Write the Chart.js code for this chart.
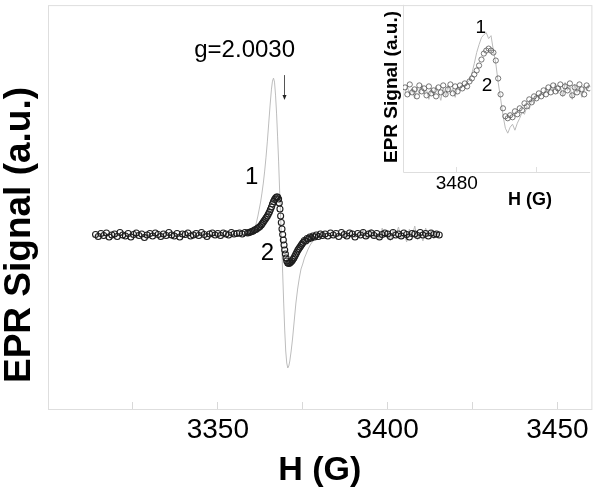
<!DOCTYPE html>
<html>
<head>
<meta charset="utf-8">
<script src="https://cdn.jsdelivr.net/npm/chart.js@4.4.0/dist/chart.umd.min.js"></script>
<style>
  body { margin: 0; background: #fff; }
  #wrap { position: relative; width: 600px; height: 491px; }
  #main { position: absolute; left: 0; top: 0; }
  #inset { position: absolute; left: 380px; top: 0; }
</style>
</head>
<body>
<div id="wrap">
  <canvas id="main" width="600" height="491"></canvas>
  <canvas id="inset" width="215" height="215"></canvas>
</div>
<script>
// ---- main spectrum: curve 1 (grey line) ----
const field1 = [
  3314.0, 3314.8, 3315.6, 3316.4, 3317.2, 3318.0, 3318.8, 3319.6, 3320.4, 3321.2,
  3322.0, 3322.8, 3323.6, 3324.4, 3325.2, 3326.0, 3326.8, 3327.6, 3328.4, 3329.2,
  3330.0, 3330.8, 3331.6, 3332.4, 3333.2, 3334.0, 3334.8, 3335.6, 3336.4, 3337.2,
  3338.0, 3338.8, 3339.6, 3340.4, 3341.2, 3342.0, 3342.8, 3343.6, 3344.4, 3345.2,
  3346.0, 3346.8, 3347.6, 3348.4, 3349.2, 3350.0, 3350.8, 3351.6, 3352.4, 3353.2,
  3354.0, 3354.8, 3355.6, 3356.4, 3357.2, 3358.0, 3358.8,
  3359.6, 3360.2, 3360.6, 3361.0, 3361.4, 3361.8, 3362.2, 3362.6, 3363.0, 3363.4,
  3363.8, 3364.2, 3364.6, 3365.0, 3365.4, 3365.8, 3366.1, 3366.4, 3366.7, 3367.0,
  3367.3, 3367.6, 3367.9, 3368.2, 3368.5, 3368.8, 3369.1, 3369.4, 3369.7, 3370.0,
  3370.3, 3370.6, 3370.9, 3371.2, 3371.6, 3372.0, 3372.5, 3373.0, 3373.5, 3374.0,
  3374.5, 3375.0, 3375.5, 3376.0, 3376.6, 3377.2, 3377.8, 3378.5, 3379.2, 3380.0, 3380.8,
  3381.6, 3382.4, 3383.2, 3384.0, 3384.8, 3385.6, 3386.4, 3387.2, 3388.0, 3388.8,
  3389.6, 3390.4, 3391.2, 3392.0, 3392.8, 3393.6, 3394.4, 3395.2, 3396.0, 3396.8,
  3397.6, 3398.4, 3399.2, 3400.0, 3400.8, 3401.6, 3402.4, 3403.2, 3404.0, 3404.8,
  3405.6, 3406.4, 3407.2, 3408.0, 3408.8, 3409.6, 3410.4, 3411.2, 3412.0, 3412.8,
  3413.6, 3414.4, 3415.2
];
const signal1 = [
  -1, 1, 0, 2, -1.5, 0.5, 1.5, -1, 0, 2,
  -0.5, 1, -2, 1.5, 0, -1, 2, 0.5, -1.5, 1,
  0, 2.5, -1, 0.5, 1.5, -0.5, 0, 2, -1.5, 1,
  0.5, -1, 2, 0, 1, -0.5, 1.5, 0, -1, 2,
  0.5, 1, -0.5, 1.5, 0, 2, 0.5, -0.5, 1.5, 1,
  0, 2, 0.5, 1, 1.5, 0.5, 1,
  2, 3, 5, 8, 13, 19, 26, 33, 42, 52,
  64, 78, 94, 112, 130, 146, 154, 157, 153, 140,
  122, 99, 74, 45, 18, -8, -38, -68, -95, -116,
  -128, -133, -131, -126, -116, -104, -86, -68, -54, -43,
  -34, -29, -23, -19, -14, -10, -7, -4.5, -3, -1.5, -0.5,
  0.5, 1, -1, 2, 0, -2, 1.5, 3, -2.5, 1,
  4, -3, 2, -1, 5, -4, 1, 6, -3, 2,
  -5, 7, -2, 3, -6, 5, 0, 8, -4, 2,
  -7, 6, -1, 9, -5, 3, -6, 7, -2, 5,
  -4, 3, 0
];

// ---- main spectrum: curve 2 (open circles) ----
const field2 = [
  3314.0, 3314.8, 3315.6, 3316.4, 3317.2, 3318.0, 3318.8, 3319.6, 3320.4, 3321.2,
  3322.0, 3322.8, 3323.6, 3324.4, 3325.2, 3326.0, 3326.8, 3327.6, 3328.4, 3329.2,
  3330.0, 3330.8, 3331.6, 3332.4, 3333.2, 3334.0, 3334.8, 3335.6, 3336.4, 3337.2,
  3338.0, 3338.8, 3339.6, 3340.4, 3341.2, 3342.0, 3342.8, 3343.6, 3344.4, 3345.2,
  3346.0, 3346.8, 3347.6, 3348.4, 3349.2, 3350.0, 3350.8, 3351.6, 3352.4, 3353.2,
  3354.0, 3354.8, 3355.6, 3356.4, 3357.2, 3358.0, 3358.8,
  3359.2, 3359.6, 3360.0, 3360.4, 3360.8, 3361.2, 3361.6, 3362.0, 3362.4, 3362.8,
  3363.1, 3363.4, 3363.7, 3364.0, 3364.3, 3364.6, 3364.9, 3365.2, 3365.5, 3365.8,
  3366.1, 3366.4, 3366.7, 3367.0, 3367.3, 3367.6, 3367.9, 3368.1, 3368.3, 3368.5,
  3368.7, 3368.9, 3369.1, 3369.3, 3369.5, 3369.7, 3369.9, 3370.1, 3370.3, 3370.6,
  3370.9, 3371.2, 3371.5, 3371.8, 3372.1, 3372.4, 3372.7, 3373.0, 3373.3, 3373.6,
  3373.9, 3374.2, 3374.5, 3374.8, 3375.1, 3375.5, 3375.9, 3376.3, 3376.7, 3377.1,
  3377.5, 3378.0, 3378.5, 3379.0, 3379.6, 3380.2, 3380.8,
  3381.6, 3382.4, 3383.2, 3384.0, 3384.8, 3385.6, 3386.4, 3387.2, 3388.0, 3388.8,
  3389.6, 3390.4, 3391.2, 3392.0, 3392.8, 3393.6, 3394.4, 3395.2, 3396.0, 3396.8,
  3397.6, 3398.4, 3399.2, 3400.0, 3400.8, 3401.6, 3402.4, 3403.2, 3404.0, 3404.8,
  3405.6, 3406.4, 3407.2, 3408.0, 3408.8, 3409.6, 3410.4, 3411.2, 3412.0, 3412.8,
  3413.6, 3414.4, 3415.2
];
const signal2 = [
  0.5, -1.5, 1.5, -0.5, 2, -2, 0, 1, -1.5, 2.5,
  0, -1, 1.5, -2, 0.5, 2, -0.5, 1, -2.5, 0,
  1.5, -1, 2, 0.5, -1.5, 1, -0.5, 2.5, 0, -1,
  1.5, -2, 1, 0.5, 2, -1, 0, 1.5, -0.5, 2.5,
  0.5, -1.5, 1, 2, 0, 1.5, -0.5, 2, 1, 0,
  2.5, 1, 1.5, 2, 1, 2.5, 2,
  2.5, 3, 3.5, 4, 5, 5.5, 6.5, 7.5, 8.5, 10,
  11.5, 13, 14.5, 16, 17.5, 19, 21, 23, 25.5, 28,
  31, 33.5, 35.5, 37, 38, 38, 36, 32, 26, 19,
  12.5, 6, 0.5, -5, -10, -15, -19, -23, -26, -28,
  -28.5, -28, -27, -26, -24.5, -23, -21, -19, -17, -15,
  -13.5, -12, -10.5, -9, -7.5, -5.5, -6, -3.5, -4, -2,
  -3, -1, -2, 0, -1.5, 1, -0.5,
  1, -1, 2, 0, 1.5, -1.5, 2.5, 0.5, -1, 2,
  1, -2, 1.5, 0, 2.5, -1, 1, 2, -0.5, 1.5,
  -2, 0.5, 2, 1, -1.5, 2.5, 0, 1, -1, 2,
  0.5, -2, 1.5, 1, -0.5, 2.5, 0, 1.5, -1, 2,
  0.5, 1, 0
];
const mainTicks = [3325, 3350, 3375, 3400, 3425, 3450];
const mainLabels = [3350, 3400, 3450];

// ---- inset spectrum ----
const insetField = [
  3467.0, 3467.6, 3468.2, 3468.8, 3469.4, 3470.0, 3470.6, 3471.2, 3471.8, 3472.4,
  3473.0, 3473.6, 3474.2, 3474.8, 3475.4, 3476.0, 3476.6, 3477.2, 3477.8, 3478.4,
  3479.0, 3479.6, 3480.2, 3480.8, 3481.4, 3482.0, 3482.6, 3483.2, 3483.8, 3484.4,
  3485.0, 3485.6, 3486.2, 3486.8, 3487.4, 3488.0, 3488.6, 3489.2, 3489.8, 3490.4,
  3491.0, 3491.6, 3492.2, 3492.8, 3493.4, 3494.0, 3494.6, 3495.2, 3495.8, 3496.4,
  3497.0, 3497.6, 3498.2, 3498.8, 3499.4, 3500.0, 3500.6, 3501.2, 3501.8, 3502.4,
  3503.0, 3503.6, 3504.2, 3504.8, 3505.4, 3506.0, 3506.6, 3507.2, 3507.8, 3508.4,
  3509.0, 3509.6, 3510.2, 3510.8, 3511.4, 3512.0, 3512.6, 3513.2
];
const insetSignal1 = [
  -2, 4, -5, 2, -8, 3, -4, 6, -3, 1,
  -9, 2, -5, 4, -2, -10, 3, -6, 5, -3,
  2, -7, 4, 0, 6, 3, 8, 10, 17, 27,
  38, 46, 53, 56, 58, 52, 55, 40, 27, 8,
  -8, -25, -38, -43, -37, -34, -40, -33, -28, -22,
  -24, -16, -19, -10, -13, -5, -8, -2, -6, 3,
  -4, 5, -1, 7, -3, 4, -6, 8, 0, 5,
  -9, 6, -2, 4, -7, 5, 0, 3
];
const insetSignal2 = [
  3, -4, 6, -2, 1, -6, 5, -1, 2, -5,
  4, -3, 0, -6, 3, -2, 5, -4, 1, 6,
  -3, 4, -1, 5, 2, 7, 4, 9, 12, 16,
  20, 25, 31, 37, 40, 42, 40, 38, 30, 12,
  -4, -18, -26, -28, -25, -27, -21, -24, -18, -20,
  -13, -16, -9, -12, -6, -8, -3, -6, 0, -4,
  3, -2, 5, -1, 2, 6, -3, 4, 0, 7,
  -5, 3, -2, 6, 1, -4, 5, 2
];
const insetTicks = [3480, 3500];
const insetLabels = [3480];

const FONT = "'Liberation Sans', Arial, sans-serif";
Chart.defaults.font.family = FONT;
Chart.defaults.color = '#000';

const pts = (xs, ys) => xs.map((x, i) => ({ x: x, y: ys[i] }));

function text(ctx, str, x, y, size, bold, rot) {
    ctx.save();
    ctx.translate(x, y);
    if (rot) ctx.rotate(rot);
    ctx.font = (bold ? 'bold ' : '') + size + 'px ' + FONT;
    ctx.fillStyle = '#000';
    ctx.textAlign = 'center';
    ctx.textBaseline = 'middle';
    ctx.fillText(str, 0, 0);
    ctx.restore();
}

// frame + annotations of the main plot
const mainDecor = {
    id: 'mainDecor',
    beforeDatasetsDraw(chart) {
        const { ctx, chartArea: a } = chart;
        ctx.save();
        ctx.strokeStyle = '#dedede';
        ctx.lineWidth = 1;
        ctx.strokeRect(a.left + 0.5, a.top + 0.5, a.right - a.left, a.bottom - a.top);
        ctx.restore();
    },
    afterDatasetsDraw(chart) {
        const { ctx } = chart;
        const x = chart.scales.x, y = chart.scales.y;
        text(ctx, 'EPR Signal (a.u.)', 20, 235, 37, true, -Math.PI / 2);
        text(ctx, 'g=2.0030', x.getPixelForValue(3357.9), y.getPixelForValue(185), 24, false);
        text(ctx, '1', x.getPixelForValue(3360), y.getPixelForValue(58), 24, false);
        text(ctx, '2', x.getPixelForValue(3364.6), y.getPixelForValue(-18), 24, false);
        // arrow marking g
        const ax = Math.round(x.getPixelForValue(3369.6)) + 0.5;
        const y0 = y.getPixelForValue(160), y1 = y.getPixelForValue(135);
        ctx.save();
        ctx.strokeStyle = '#555';
        ctx.fillStyle = '#222';
        ctx.lineWidth = 1;
        ctx.beginPath();
        ctx.moveTo(ax, y0);
        ctx.lineTo(ax, y1 - 4);
        ctx.stroke();
        ctx.beginPath();
        ctx.moveTo(ax - 2, y1 - 5);
        ctx.lineTo(ax + 2, y1 - 5);
        ctx.lineTo(ax, y1);
        ctx.closePath();
        ctx.fill();
        ctx.restore();
    }
};

new Chart(document.getElementById('main'), {
    type: 'scatter',
    data: {
        datasets: [
            {
                label: '2',
                data: pts(field2, signal2),
                showLine: false,
                pointRadius: 3,
                pointBorderWidth: 1.1,
                pointBorderColor: '#1e1e1e',
                pointBackgroundColor: 'rgba(255,255,255,0)',
                order: 0
            },
            {
                label: '1',
                data: pts(field1, signal1),
                showLine: true,
                borderColor: '#bdbdbd',
                borderWidth: 1,
                pointRadius: 0,
                tension: 0,
                order: 1
            }
        ]
    },
    options: {
        responsive: false,
        animation: false,
        layout: { padding: { left: 48, right: 7, top: 5, bottom: 0 } },
        plugins: { legend: { display: false }, tooltip: { enabled: false } },
        scales: {
            x: {
                type: 'linear',
                min: 3300,
                max: 3460,
                border: { display: false },
                grid: { drawOnChartArea: false, drawTicks: true, tickLength: -7, color: '#d8d8d8' },
                afterBuildTicks: s => { s.ticks = mainTicks.map(v => ({ value: v })); },
                afterFit: s => { s.height = 82; },
                ticks: {
                    autoSkip: false,
                    maxRotation: 0,
                    padding: 11,
                    font: { size: 28 },
                    color: '#000',
                    callback: v => mainLabels.includes(v) ? String(v) : ''
                },
                title: { display: true, text: 'H (G)', font: { size: 34, weight: 'bold' }, padding: { top: 0, bottom: 0 } }
            },
            y: { display: false, min: -174, max: 230 }
        }
    },
    plugins: [mainDecor]
});

// inset axes lines + labels
const insetDecor = {
    id: 'insetDecor',
    beforeDatasetsDraw(chart) {
        const { ctx, chartArea: a } = chart;
        ctx.save();
        ctx.strokeStyle = '#dedede';
        ctx.lineWidth = 1;
        ctx.beginPath();
        ctx.moveTo(a.left + 0.5, a.top);
        ctx.lineTo(a.left + 0.5, a.bottom + 0.5);
        ctx.lineTo(a.right, a.bottom + 0.5);
        ctx.stroke();
        ctx.restore();
    },
    afterDatasetsDraw(chart) {
        const { ctx } = chart;
        const x = chart.scales.x, y = chart.scales.y;
        text(ctx, 'EPR Signal (a.u.)', 12, 87, 19, true, -Math.PI / 2);
        text(ctx, 'H (G)', 150, 200, 18, true);
        text(ctx, '1', x.getPixelForValue(3486), y.getPixelForValue(63), 19, false);
        text(ctx, '2', x.getPixelForValue(3487.6), y.getPixelForValue(5), 19, false);
    }
};

new Chart(document.getElementById('inset'), {
    type: 'scatter',
    data: {
        datasets: [
            {
                label: '2',
                data: pts(insetField, insetSignal2),
                showLine: false,
                pointRadius: 2.6,
                pointBorderWidth: 0.8,
                pointBorderColor: '#555',
                pointBackgroundColor: 'rgba(255,255,255,0)',
                order: 0
            },
            {
                label: '1',
                data: pts(insetField, insetSignal1),
                showLine: true,
                borderColor: '#bbbbbb',
                borderWidth: 1,
                pointRadius: 0,
                tension: 0,
                order: 1
            }
        ]
    },
    options: {
        responsive: false,
        animation: false,
        layout: { padding: { left: 23, right: 4, top: 4, bottom: 0 } },
        plugins: { legend: { display: false }, tooltip: { enabled: false } },
        scales: {
            x: {
                type: 'linear',
                min: 3466.5,
                max: 3513.5,
                border: { display: false },
                grid: { drawOnChartArea: false, drawTicks: true, tickLength: -5, color: '#e0e0e0' },
                afterBuildTicks: s => { s.ticks = insetTicks.map(v => ({ value: v })); },
                afterFit: s => { s.height = 43; },
                ticks: {
                    autoSkip: false,
                    maxRotation: 0,
                    padding: 5,
                    font: { size: 19 },
                    color: '#000',
                    callback: v => insetLabels.includes(v) ? String(v) : ''
                }
            },
            y: { display: false, min: -82, max: 86 }
        }
    },
    plugins: [insetDecor]
});
</script>
</body>
</html>
